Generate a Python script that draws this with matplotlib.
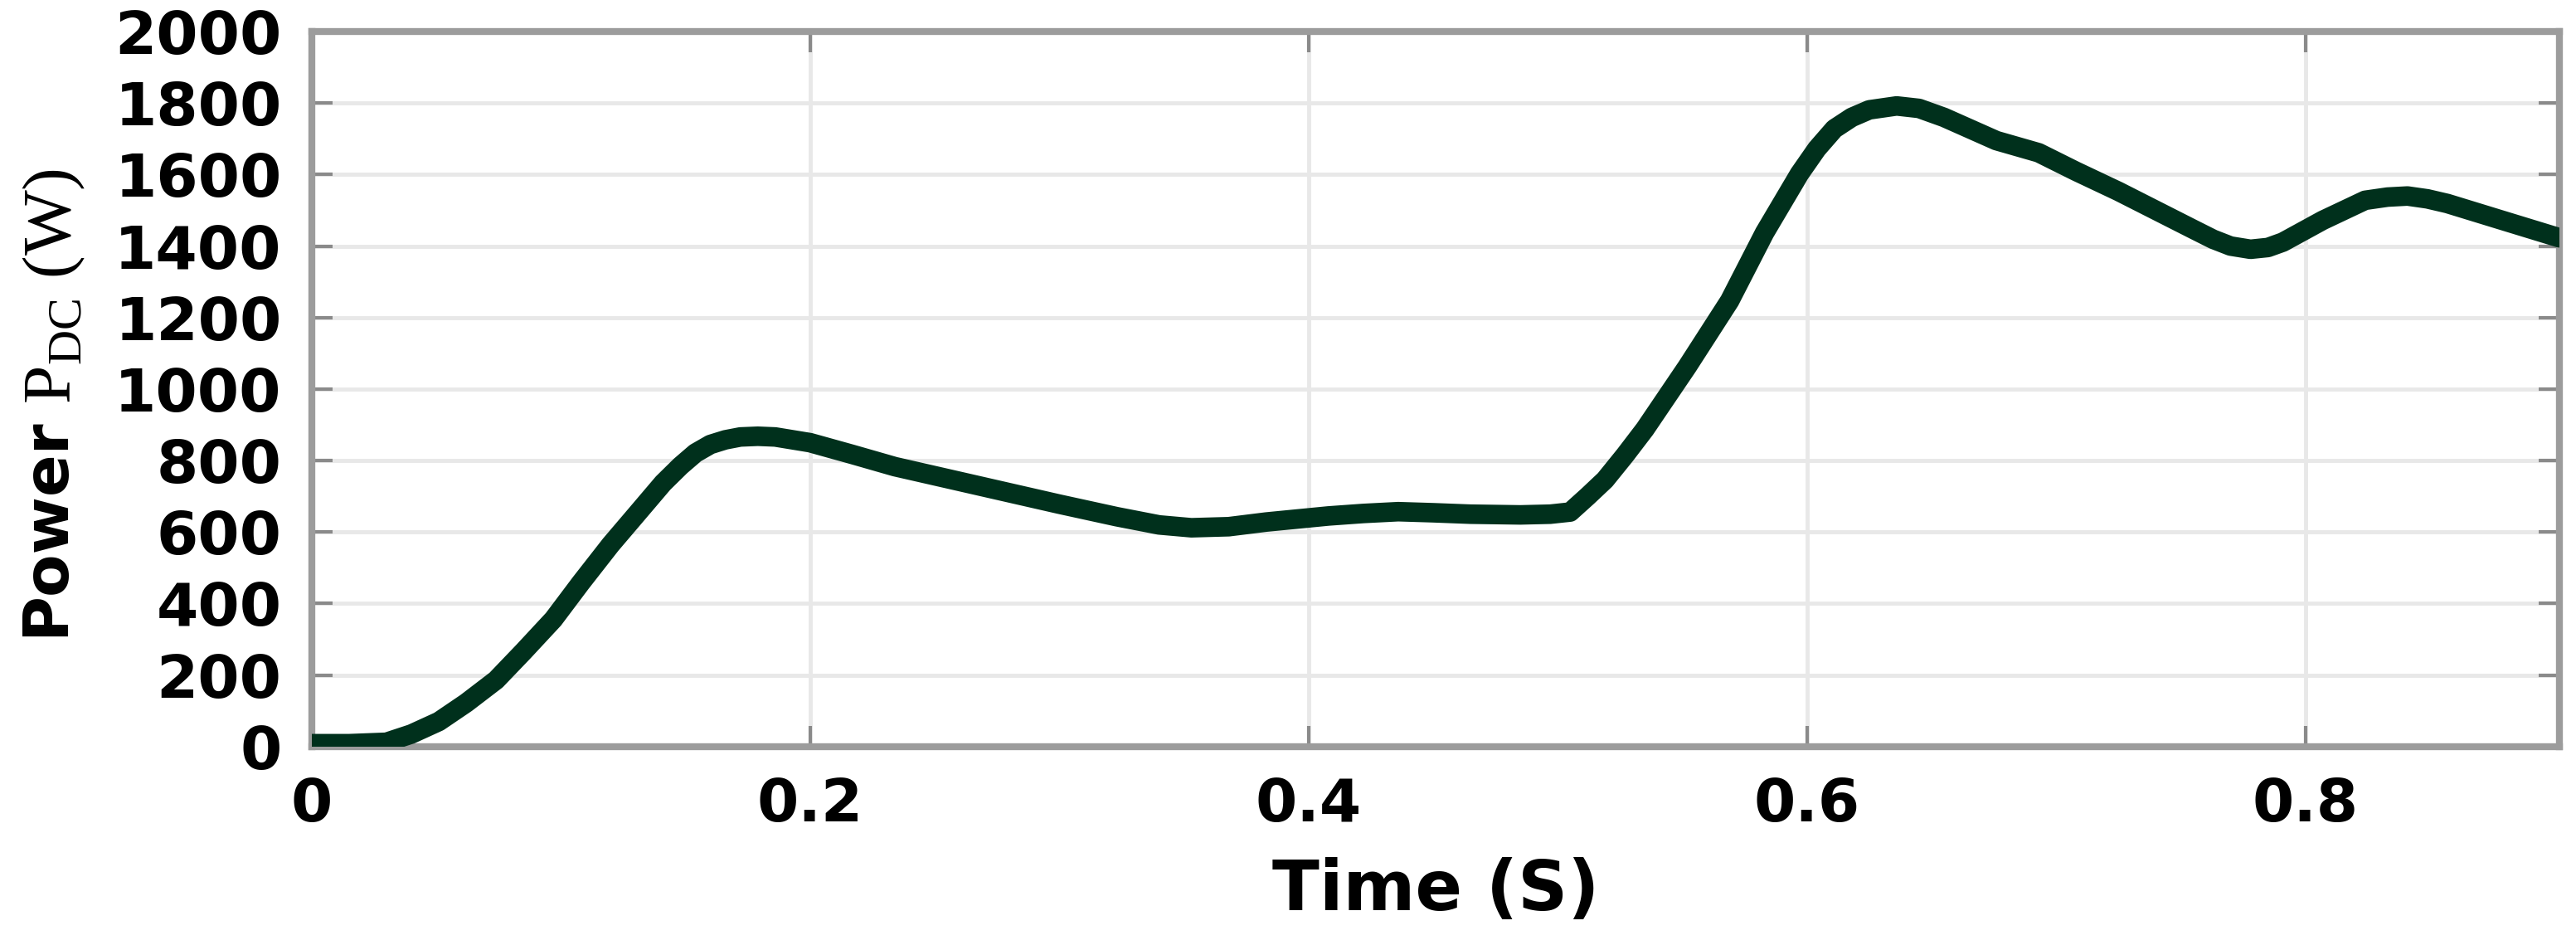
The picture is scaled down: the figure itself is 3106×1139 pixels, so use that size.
import numpy as np
import matplotlib.pyplot as plt

# time (s) and DC power (W)
t = [0.000, 0.015, 0.030, 0.040, 0.051, 0.062, 0.074, 0.085, 0.097, 0.108,
     0.120, 0.131, 0.141, 0.148, 0.154, 0.160, 0.166, 0.172, 0.179, 0.186,
     0.193, 0.200, 0.217, 0.234, 0.256, 0.278, 0.300, 0.323, 0.340, 0.353,
     0.368, 0.383, 0.408, 0.422, 0.436, 0.450, 0.465, 0.485, 0.497, 0.505,
     0.512, 0.519, 0.527, 0.535, 0.552, 0.569, 0.583, 0.597, 0.604, 0.611,
     0.618, 0.625, 0.636, 0.645, 0.655, 0.676, 0.693, 0.708, 0.725, 0.740,
     0.755, 0.763, 0.770, 0.778, 0.785, 0.791, 0.807, 0.824, 0.833, 0.841,
     0.849, 0.857, 0.879, 0.902]
P_dc = [8, 8, 12, 35, 70, 122, 186, 266, 356, 458,
        565, 655, 737, 785, 821, 845, 858, 866, 868, 866,
        858, 850, 817, 783, 748, 713, 678, 643, 620, 612,
        615, 628, 645, 652, 657, 654, 650, 648, 650, 656,
        700, 746, 815, 888, 1063, 1247, 1437, 1602, 1672, 1728,
        1760, 1781, 1792, 1785, 1760, 1695, 1661, 1609, 1553, 1500,
        1447, 1419, 1400, 1391, 1396, 1411, 1472, 1528, 1537, 1540,
        1532, 1519, 1472, 1423]

xticks = [0, 0.2, 0.4, 0.6, 0.8]
xlabels = ['0', '0.2', '0.4', '0.6', '0.8']
yticks = np.arange(0, 2001, 200)

fig = plt.figure(figsize=(31.06, 11.39), dpi=100)
ax = fig.add_axes([0.121, 0.21, 0.8726, 0.7566])

ax.plot(t, P_dc, color='#00301c', lw=17, solid_capstyle='round',
        solid_joinstyle='round', zorder=3)

ax.set_xlim(0, 0.902)
ax.set_ylim(0, 2000)
ax.set_xticks(xticks)
ax.set_xticklabels(xlabels)
ax.set_yticks(yticks)

ax.grid(True, color='#e8e8e8', lw=3.5)
ax.set_axisbelow(True)
for s in ax.spines.values():
    s.set_color('#9c9c9c')
    s.set_linewidth(6)

ax.tick_params(direction='in', length=18, width=3, color='#8a8a8a',
               top=True, right=True, labelsize=52, pad=26)
for lab in ax.get_xticklabels() + ax.get_yticklabels():
    lab.set_fontweight('bold')
    lab.set_family('DejaVu Sans')

ax.set_xlabel('Time (S)', fontsize=60, fontweight='bold', labelpad=20)

# y label: bold sans "Power" + serif "P_DC (W)"
fig.text(0.018, 1 - 635/1139, 'Power', rotation=90, fontsize=54,
         fontweight='bold', ha='center', va='center')
fig.text(0.021, 1 - 345/1139, r'P$_{\mathregular{DC}}$ (W)', rotation=90,
         fontsize=60, family='Liberation Serif', ha='center', va='center')

plt.savefig('out.png', dpi=100)
